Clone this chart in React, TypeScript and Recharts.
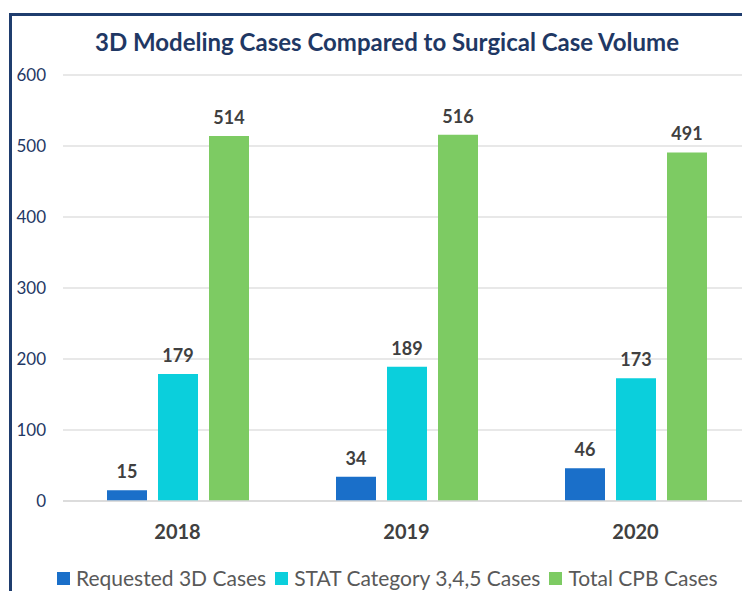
import React from 'react';
import {
  BarChart,
  Bar,
  XAxis,
  YAxis,
  CartesianGrid,
  Legend,
  LabelList
} from 'recharts';

const years = ['2018', '2019', '2020'];
const requested3D = [15, 34, 46];
const statCategory = [179, 189, 173];
const totalCPB = [514, 516, 491];
const yTicks = [0, 100, 200, 300, 400, 500, 600];

const seriesNames = ['Requested 3D Cases', 'STAT Category 3,4,5 Cases', 'Total CPB Cases'];
const seriesColors = ['#1a6fc9', '#0bcfdc', '#7dcb63'];

const FONT = 'Lato, "Open Sans", sans-serif';

const chartData = years.map((year, i) => ({
  year,
  requested: requested3D[i],
  stat: statCategory[i],
  total: totalCPB[i]
}));

const keys = ['requested', 'stat', 'total'];

const YearTick = (props: any) => {
  const { x, y, payload } = props;
  return (
    <text x={x} y={y} dy={36} textAnchor="middle" fill="#404040" fontSize={20} fontWeight={700} fontFamily={FONT}>
      {payload.value}
    </text>
  );
};

const LegendContent = () => (
  <div
    style={{
      display: 'flex',
      alignItems: 'center',
      fontFamily: FONT,
      fontSize: 21,
      lineHeight: '28px',
      color: '#595959',
      paddingLeft: 49
    }}
  >
    {seriesNames.map((name, i) => (
      <div key={name} style={{ display: 'flex', alignItems: 'center', marginRight: 9 }}>
        <span style={{ width: 13, height: 13, background: seriesColors[i], display: 'inline-block', marginRight: 6 }} />
        <span>{name}</span>
      </div>
    ))}
  </div>
);

export default function App() {
  return (
    <div style={{ position: 'relative', width: 742, height: 583 }}>
      {/* outer frame, only left and top edges show inside the picture */}
      <div
        style={{
          position: 'absolute',
          left: 1,
          top: 5,
          width: 741,
          height: 578,
          borderLeft: '3px solid #1f3d6e',
          borderTop: '3px solid #1f3d6e',
          boxSizing: 'border-box'
        }}
      />
      <div
        style={{
          position: 'absolute',
          left: 0,
          width: 758,
          top: 19,
          textAlign: 'center',
          fontFamily: FONT,
          fontWeight: 700,
          fontSize: 24,
          color: '#1f3864',
          lineHeight: '30px'
        }}
      >
        3D Modeling Cases Compared to Surgical Case Volume
      </div>
      <div style={{ position: 'absolute', left: 0, top: 0 }}>
        <BarChart
          width={742}
          height={583}
          data={chartData}
          margin={{ top: 67, right: 0, bottom: 0, left: 0 }}
          barSize={40}
          barGap={11}
        >
          <CartesianGrid vertical={false} stroke="#e0e0e0" strokeWidth={1.5} />
          <XAxis
            dataKey="year"
            height={50}
            tick={<YearTick />}
            tickLine={false}
            tickSize={0}
            axisLine={{ stroke: '#d9d9d9', strokeWidth: 1.5 }}
          />
          <YAxis
            width={55}
            domain={[0, 600]}
            ticks={yTicks}
            tickLine={false}
            axisLine={false}
            tickSize={0}
            tickMargin={17}
            tick={{ fill: '#1f3864', fontSize: 17, fontFamily: FONT }}
          />
          <Legend
            verticalAlign="bottom"
            height={40}
            content={<LegendContent />}
            wrapperStyle={{ top: 556, bottom: 'auto' }}
          />
          {keys.map((k, i) => (
            <Bar key={k} dataKey={k} name={seriesNames[i]} fill={seriesColors[i]} isAnimationActive={false}>
              <LabelList
                dataKey={k}
                position="top"
                offset={12}
                fill="#404040"
                fontSize={18}
                fontWeight={700}
                fontFamily={FONT}
              />
            </Bar>
          ))}
        </BarChart>
      </div>
    </div>
  );
}
